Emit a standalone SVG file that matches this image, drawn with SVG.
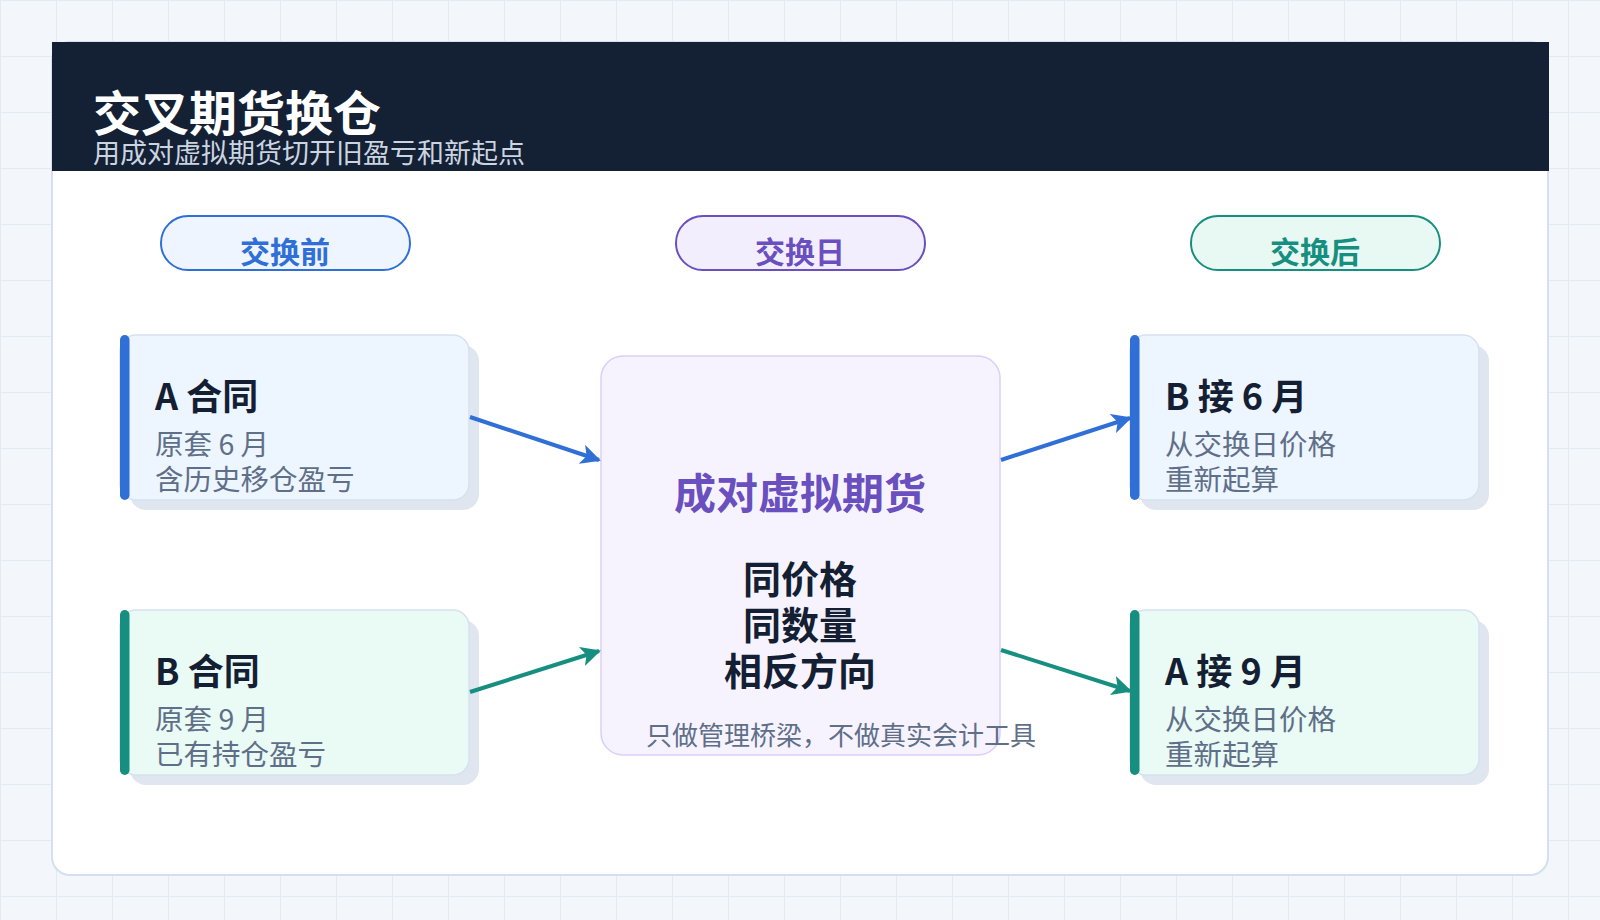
<svg xmlns="http://www.w3.org/2000/svg" width="1600" height="920" viewBox="0 0 1600 920">
<defs>
<pattern id="grid" width="56" height="56" patternUnits="userSpaceOnUse">
<path d="M0 0H56M0 0V56" fill="none" stroke="#e3eaf3" stroke-width="2"/>
</pattern>
<marker id="ab" viewBox="0 0 10 10" refX="9" refY="5" markerWidth="5" markerHeight="5" orient="auto" markerUnits="strokeWidth">
<path d="M0 0L10 5L0 10L2.5 5Z" fill="#2f6fd6"/>
</marker>
<marker id="at" viewBox="0 0 10 10" refX="9" refY="5" markerWidth="5" markerHeight="5" orient="auto" markerUnits="strokeWidth">
<path d="M0 0L10 5L0 10L2.5 5Z" fill="#168f80"/>
</marker>
</defs>
<style>
text{font-family:"Noto Sans CJK SC","Noto Sans",sans-serif}
.title{font-size:48px;font-weight:700;fill:#ffffff}
.sub{font-size:27px;fill:#cbd5e1}
.pill{stroke-width:2}
.pilltxt{font-size:30px;font-weight:700;text-anchor:middle}
.shadow{fill:#dfe6f0}
.card{stroke:#d6e1ef;stroke-width:1.5}
.blue{fill:#edf5ff}
.teal{fill:#eafaf5}
.head{font-size:36px;font-weight:700;fill:#141f33}
.body{font-size:28.5px;fill:#5f6f88}
.conn{fill:none;stroke-width:4}
</style>
<rect width="1600" height="920" fill="#f3f7fc"/>
<rect width="1600" height="920" fill="url(#grid)"/>
<rect x="52" y="42" width="1496" height="833" rx="18" fill="#ffffff" stroke="#d5dfed" stroke-width="2"/>
<g id="header">
<rect x="52" y="42" width="1497" height="129" fill="#142034"/>
<text class="title" x="93" y="131">交叉期货换仓</text>
<text class="sub" x="93" y="163">用成对虚拟期货切开旧盈亏和新起点</text>
</g>
<g id="pill-before">
<rect class="pill" x="161" y="216" width="249" height="54" rx="27" fill="#eef5ff" stroke="#2f6fd6"/>
<text class="pilltxt" x="285" y="263" fill="#2f6fd6">交换前</text>
</g>
<g id="pill-day">
<rect class="pill" x="676" y="216" width="249" height="54" rx="27" fill="#f2eefe" stroke="#6a4fbf"/>
<text class="pilltxt" x="800" y="263" fill="#6a4fbf">交换日</text>
</g>
<g id="pill-after">
<rect class="pill" x="1191" y="216" width="249" height="54" rx="27" fill="#e8f8f3" stroke="#168f80"/>
<text class="pilltxt" x="1315" y="263" fill="#168f80">交换后</text>
</g>
<g id="card-a">
<rect class="shadow" x="130" y="345" width="349" height="165" rx="16"/>
<rect class="card blue" x="120" y="335" width="349" height="165" rx="16"/>
<rect x="120" y="335" width="9.5" height="165" rx="4.75" fill="#2f6fd6"/>
<text class="head" x="155" y="410">A 合同</text>
<text class="body" x="155" y="455">原套 6 月</text>
<text class="body" x="155" y="490">含历史移仓盈亏</text>
</g>
<g id="card-b">
<rect class="shadow" x="130" y="620" width="349" height="165" rx="16"/>
<rect class="card teal" x="120" y="610" width="349" height="165" rx="16"/>
<rect x="120" y="610" width="9.5" height="165" rx="4.75" fill="#168f80"/>
<text class="head" x="155" y="685">B 合同</text>
<text class="body" x="155" y="730">原套 9 月</text>
<text class="body" x="155" y="765">已有持仓盈亏</text>
</g>
<g id="center">
<rect x="601" y="356" width="399" height="399" rx="22" fill="#f6f3ff" stroke="#dacff8" stroke-width="1.5"/>
<text x="800" y="509" text-anchor="middle" font-size="42" font-weight="700" fill="#6a4fbf">成对虚拟期货</text>
<text x="800" y="593" text-anchor="middle" font-size="38" font-weight="700" fill="#141f33">同价格</text>
<text x="800" y="639" text-anchor="middle" font-size="38" font-weight="700" fill="#141f33">同数量</text>
<text x="800" y="685" text-anchor="middle" font-size="38" font-weight="700" fill="#141f33">相反方向</text>
<text x="646" y="745" font-size="26" fill="#5f6f88">只做管理桥梁，不做真实会计工具</text>
</g>
<g id="card-b6">
<rect class="shadow" x="1140" y="345" width="349" height="165" rx="16"/>
<rect class="card blue" x="1130" y="335" width="349" height="165" rx="16"/>
<rect x="1130" y="335" width="9.5" height="165" rx="4.75" fill="#2f6fd6"/>
<text class="head" x="1165" y="410">B 接 6 月</text>
<text class="body" x="1165" y="455">从交换日价格</text>
<text class="body" x="1165" y="490">重新起算</text>
</g>
<g id="card-a9">
<rect class="shadow" x="1140" y="620" width="349" height="165" rx="16"/>
<rect class="card teal" x="1130" y="610" width="349" height="165" rx="16"/>
<rect x="1130" y="610" width="9.5" height="165" rx="4.75" fill="#168f80"/>
<text class="head" x="1165" y="685">A 接 9 月</text>
<text class="body" x="1165" y="730">从交换日价格</text>
<text class="body" x="1165" y="765">重新起算</text>
</g>
<g id="connectors">
<path class="conn" d="M470 417L599 460" stroke="#2f6fd6" marker-end="url(#ab)"/>
<path class="conn" d="M470 692L599 651" stroke="#168f80" marker-end="url(#at)"/>
<path class="conn" d="M1001 460L1130 418" stroke="#2f6fd6" marker-end="url(#ab)"/>
<path class="conn" d="M1001 650L1130 691" stroke="#168f80" marker-end="url(#at)"/>
</g>
</svg>
